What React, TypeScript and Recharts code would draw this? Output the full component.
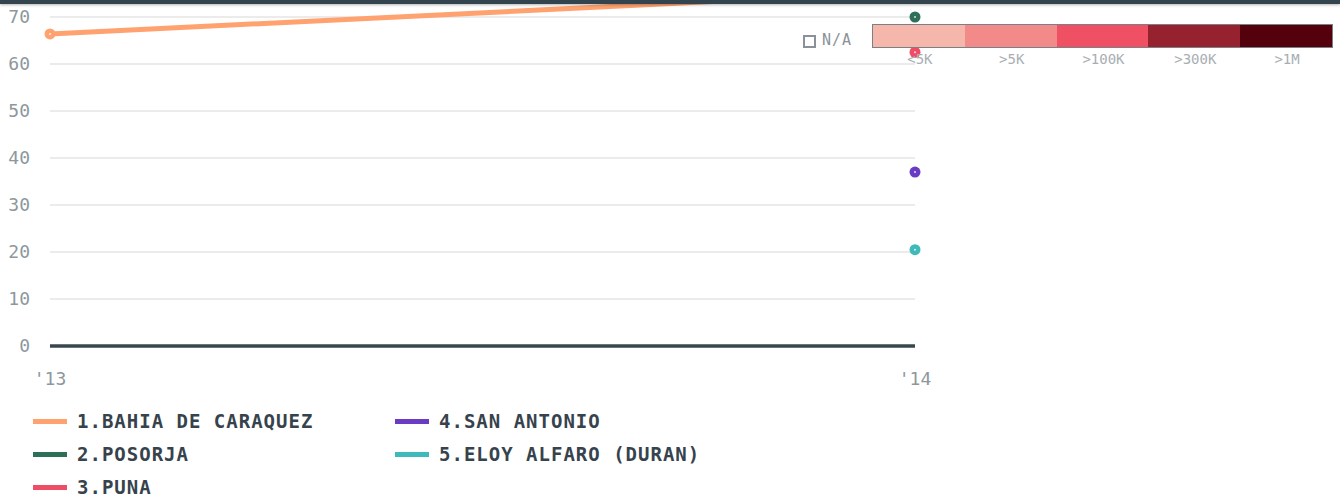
import React from "react";
import { LineChart, Line, XAxis, YAxis, CartesianGrid } from "recharts";

const categories = ["'13", "'14"];
const bahia = [66.4, 75.4];
const posorja = [null, 70];
const puna = [null, 62.5];
const sanAntonio = [null, 37];
const eloy = [null, 20.5];
const yTicks = [0, 10, 20, 30, 40, 50, 60, 70];

const seriesNames = ["1.BAHIA DE CARAQUEZ", "2.POSORJA", "3.PUNA", "4.SAN ANTONIO", "5.ELOY ALFARO (DURAN)"];
const seriesKeys = ["bahia", "posorja", "puna", "sanAntonio", "eloy"];
const seriesColors = ["#ffa26f", "#2e6f57", "#ef4c66", "#6a3cc6", "#3dbab9"];
const seriesValues = [bahia, posorja, puna, sanAntonio, eloy];

const scaleLabels = ["<5K", ">5K", ">100K", ">300K", ">1M"];
const scaleColors = ["#f5b6ac", "#f18a89", "#ef5064", "#962230", "#55000d"];

const data = categories.map((c, i) => {
  const row: Record<string, any> = { cat: c };
  seriesKeys.forEach((k, j) => {
    row[k] = seriesValues[j][i];
  });
  return row;
});

const mono = "'DejaVu Sans Mono', monospace";

const makeDot = (color: string) => (props: any) => {
  const { cx, cy, value, index } = props;
  if (cx == null || cy == null || value == null) return <g key={`d-${index}`} />;
  return (
    <g key={`d-${index}`}>
      <circle cx={cx} cy={cy} r={5.5} fill={color} />
      <circle cx={cx} cy={cy} r={1} fill="#ffffff" opacity={0.8} />
    </g>
  );
};

export default function App() {
  const legendCols = [
    [0, 1, 2],
    [3, 4],
  ];
  return (
    <div
      style={{
        position: "fixed",
        left: 0,
        top: 0,
        width: 1340,
        height: 499,
        overflow: "hidden",
        background: "#fff",
      }}
    >
      <div style={{ position: "absolute", left: 0, top: -40 }}>
        <LineChart
          width={1340}
          height={440}
          data={data}
          margin={{ top: 10, right: 425, left: 0, bottom: 14 }}
        >
          <CartesianGrid horizontal vertical={false} stroke="#ebebeb" strokeWidth={2} />
          <XAxis
            dataKey="cat"
            height={40}
            axisLine={{ stroke: "#37474f", strokeWidth: 3.5 }}
            tickLine={false}
            tickSize={0}
            tickMargin={26}
            tick={{ fill: "#8d979e", fontSize: 18, fontFamily: mono }}
            padding={{ left: 0, right: 0 }}
          />
          <YAxis
            width={50}
            domain={[0, 80]}
            ticks={yTicks}
            axisLine={false}
            tickLine={false}
            tickSize={0}
            tickMargin={20}
            tick={{ fill: "#8d979e", fontSize: 18, fontFamily: mono }}
          />
          {seriesKeys.map((k, j) => (
            <Line
              key={k}
              dataKey={k}
              stroke={seriesColors[j]}
              strokeWidth={5}
              dot={makeDot(seriesColors[j])}
              activeDot={false}
              isAnimationActive={false}
              connectNulls={false}
            />
          ))}
        </LineChart>
      </div>

      {/* colour scale legend */}
      <div style={{ position: "absolute", left: 803, top: 35, width: 13, height: 13, border: "2px solid #8a9298", boxSizing: "border-box" }} />
      <div style={{ position: "absolute", left: 822, top: 31, fontFamily: mono, fontSize: 15, color: "#8a9298", letterSpacing: 1 }}>N/A</div>
      <div
        style={{
          position: "absolute",
          left: 872,
          top: 24,
          width: 461,
          height: 24,
          border: "1px solid #7a8186",
          boxSizing: "border-box",
          display: "flex",
        }}
      >
        {scaleColors.map((c, i) => (
          <div key={i} style={{ flex: 1, background: c }} />
        ))}
      </div>
      {scaleLabels.map((l, i) => (
        <div
          key={l}
          style={{
            position: "absolute",
            left: 874 + i * 91.8,
            width: 91.8,
            top: 51,
            textAlign: "center",
            fontFamily: mono,
            fontSize: 14,
            color: "#a7aeb3",
          }}
        >
          {l}
        </div>
      ))}

      {/* series legend */}
      {legendCols.map((col, ci) =>
        col.map((si, ri) => (
          <div
            key={si}
            style={{
              position: "absolute",
              left: ci === 0 ? 33 : 395,
              top: 408 + ri * 33,
              display: "flex",
              alignItems: "center",
              height: 26,
            }}
          >
            <div style={{ width: 34, height: 5, background: seriesColors[si], marginRight: 10 }} />
            <span
              style={{
                fontFamily: mono,
                fontWeight: "bold",
                fontSize: 19,
                letterSpacing: 1,
                color: "#36434d",
                whiteSpace: "nowrap",
              }}
            >
              {seriesNames[si]}
            </span>
          </div>
        ))
      )}

      {/* top bar */}
      <div
        style={{
          position: "absolute",
          left: 0,
          top: 0,
          width: 1340,
          height: 4,
          background: "#34444f",
          boxShadow: "0 1px 3px rgba(0,0,0,0.3)",
        }}
      />
    </div>
  );
}
